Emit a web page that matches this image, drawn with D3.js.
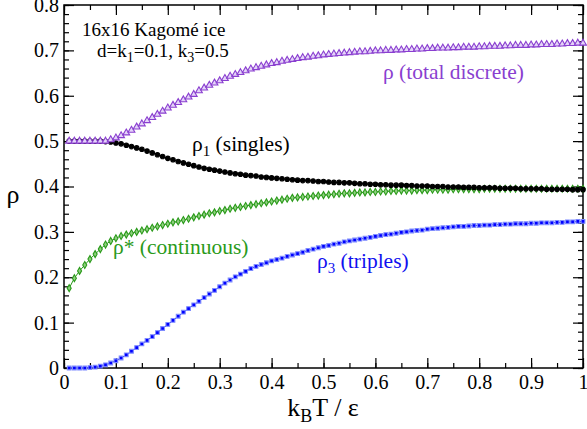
<!DOCTYPE html>
<html><head><meta charset="utf-8">
<script src="https://cdn.jsdelivr.net/npm/d3@7"></script>
<style>body{margin:0;background:#fff}svg{display:block}svg text{font-family:"Liberation Serif","Times New Roman","DejaVu Serif",serif}</style>
</head><body><svg id="c" width="587" height="429"></svg>
<script>
const temps = d3.range(1, 101).map(i => i / 100);
const rhoTotal = [0.500,0.500,0.500,0.500,0.500,0.500,0.500,0.500,0.503,0.507,
0.512,0.518,0.524,0.531,0.538,0.545,0.552,0.559,0.566,0.573,
0.579,0.585,0.591,0.597,0.603,0.611,0.617,0.623,0.628,0.633,
0.638,0.643,0.647,0.651,0.655,0.659,0.662,0.665,0.668,0.671,
0.673,0.676,0.678,0.680,0.682,0.684,0.685,0.687,0.688,0.690,
0.691,0.692,0.693,0.694,0.695,0.696,0.697,0.697,0.698,0.699,
0.699,0.700,0.700,0.701,0.701,0.702,0.702,0.703,0.703,0.704,
0.704,0.705,0.705,0.705,0.706,0.706,0.707,0.707,0.707,0.708,
0.708,0.709,0.709,0.709,0.710,0.710,0.711,0.711,0.711,0.712,
0.712,0.713,0.713,0.713,0.714,0.714,0.715,0.715,0.716,0.716];
const rhoSingles = [0.500,0.500,0.500,0.500,0.500,0.500,0.500,0.499,0.498,0.496,
0.494,0.491,0.488,0.485,0.482,0.478,0.474,0.470,0.466,0.462,
0.459,0.455,0.452,0.449,0.446,0.443,0.440,0.438,0.436,0.434,
0.432,0.430,0.428,0.427,0.425,0.424,0.423,0.421,0.420,0.419,
0.418,0.417,0.416,0.415,0.414,0.413,0.413,0.412,0.411,0.411,
0.410,0.409,0.409,0.408,0.408,0.407,0.406,0.406,0.405,0.405,
0.404,0.404,0.403,0.403,0.403,0.402,0.402,0.401,0.401,0.401,
0.400,0.400,0.400,0.399,0.399,0.399,0.398,0.398,0.398,0.397,
0.397,0.397,0.397,0.396,0.396,0.396,0.396,0.395,0.395,0.395,
0.395,0.395,0.394,0.394,0.394,0.394,0.394,0.393,0.393,0.393];
const rhoCont = [0.176,0.198,0.214,0.227,0.240,0.251,0.262,0.272,0.280,0.286,
0.291,0.294,0.297,0.300,0.303,0.306,0.309,0.312,0.315,0.318,
0.321,0.323,0.326,0.329,0.332,0.335,0.338,0.341,0.343,0.346,
0.348,0.351,0.353,0.355,0.357,0.359,0.361,0.363,0.365,0.367,
0.369,0.371,0.373,0.375,0.376,0.377,0.378,0.379,0.380,0.381,
0.382,0.383,0.384,0.385,0.385,0.386,0.387,0.387,0.388,0.388,
0.389,0.389,0.390,0.390,0.391,0.391,0.391,0.392,0.392,0.392,
0.393,0.393,0.393,0.393,0.394,0.394,0.394,0.394,0.394,0.394,
0.395,0.395,0.395,0.395,0.395,0.395,0.395,0.395,0.395,0.395,
0.395,0.395,0.395,0.395,0.395,0.395,0.395,0.395,0.395,0.395];
const rhoTriples = [0.000,0.000,0.000,0.000,0.001,0.002,0.004,0.007,0.011,0.016,
0.022,0.029,0.037,0.045,0.053,0.061,0.069,0.078,0.087,0.096,
0.105,0.114,0.123,0.131,0.139,0.147,0.155,0.163,0.171,0.179,
0.187,0.194,0.201,0.207,0.213,0.219,0.224,0.228,0.232,0.236,
0.239,0.242,0.246,0.249,0.252,0.255,0.259,0.262,0.265,0.268,
0.270,0.273,0.275,0.278,0.280,0.282,0.284,0.286,0.288,0.290,
0.292,0.294,0.295,0.297,0.299,0.300,0.302,0.303,0.304,0.306,
0.307,0.308,0.309,0.310,0.311,0.312,0.312,0.313,0.314,0.314,
0.315,0.315,0.316,0.316,0.317,0.317,0.318,0.318,0.318,0.319,
0.319,0.320,0.320,0.320,0.321,0.321,0.322,0.322,0.323,0.323];
const xTicks = [0,0.1,0.2,0.3,0.4,0.5,0.6,0.7,0.8,0.9,1];
const xTickLabels = ["0","0.1","0.2","0.3","0.4","0.5","0.6","0.7","0.8","0.9","1"];
const yTicks = [0,0.1,0.2,0.3,0.4,0.5,0.6,0.7,0.8];
const yTickLabels = ["0","0.1","0.2","0.3","0.4","0.5","0.6","0.7","0.8"];

const FONT = "'Liberation Serif','Times New Roman','DejaVu Serif',serif";
const svg = d3.select("#c");
const L = 64, R = 583, T = 5, B = 368;
const x = d3.scaleLinear().domain([0, 1]).range([L, R]);
const y = d3.scaleLinear().domain([0, 0.8]).range([B, T]);

const xMinor = d3.range(0, 21).map(i => i * 0.05);
const yMinor = d3.range(0, 41).map(i => i * 0.02);

function styleAxis(g) {
  g.attr("font-family", FONT);
  g.select(".domain").remove();
  g.selectAll("line").attr("stroke", "#000").attr("stroke-width", 1.2);
  g.selectAll("text").attr("fill", "#000").style("font-size", "20px").style("font-family", FONT);
}
// minor ticks
svg.append("g").attr("transform", `translate(0,${B})`).call(d3.axisBottom(x).tickValues(xMinor).tickSize(-5).tickFormat("")).call(styleAxis);
svg.append("g").attr("transform", `translate(0,${T})`).call(d3.axisTop(x).tickValues(xMinor).tickSize(-5).tickFormat("")).call(styleAxis);
svg.append("g").attr("transform", `translate(${L},0)`).call(d3.axisLeft(y).tickValues(yMinor).tickSize(-5).tickFormat("")).call(styleAxis);
svg.append("g").attr("transform", `translate(${R},0)`).call(d3.axisRight(y).tickValues(yMinor).tickSize(-5).tickFormat("")).call(styleAxis);
// major ticks
svg.append("g").attr("transform", `translate(0,${B})`).call(d3.axisBottom(x).tickValues(xTicks).tickSize(-10).tickPadding(7).tickFormat((d, i) => xTickLabels[i])).call(styleAxis);
svg.append("g").attr("transform", `translate(0,${T})`).call(d3.axisTop(x).tickValues(xTicks).tickSize(-10).tickFormat("")).call(styleAxis);
svg.append("g").attr("transform", `translate(${L},0)`).call(d3.axisLeft(y).tickValues(yTicks).tickSize(-10).tickPadding(5).tickFormat((d, i) => yTickLabels[i])).call(styleAxis);
svg.append("g").attr("transform", `translate(${R},0)`).call(d3.axisRight(y).tickValues(yTicks).tickSize(-10).tickFormat("")).call(styleAxis);

svg.append("rect").attr("x", L).attr("y", T).attr("width", R - L).attr("height", B - T)
  .attr("fill", "none").attr("stroke", "#000").attr("stroke-width", 1.5);

const series = [
  { vals: rhoCont, color: "#2a9a1a", fill: "#8fd080", sym: d3.symbolDiamond, size: 14 },
  { vals: rhoSingles, color: "#000", fill: "#000", sym: d3.symbolCircle, size: 16 },
  { vals: rhoTriples, color: "#1010f0", fill: "#0000ff", sym: d3.symbolSquare, size: 14, halo: "#7f8cff" },
  { vals: rhoTotal, color: "#8a3fd0", fill: "#e4d4f8", sym: d3.symbolTriangle, size: 20 }
];
const line = d3.line().x(d => x(d[0])).y(d => y(d[1]));
series.forEach(s => {
  const pts = temps.map((t, i) => [t, s.vals[i]]);
  const g = svg.append("g");
  g.append("path").attr("d", line(pts)).attr("fill", "none").attr("stroke", s.color).attr("stroke-width", 1);
  g.selectAll("path.m").data(pts).join("path").attr("class", "m")
    .attr("transform", d => `translate(${x(d[0])},${y(d[1])})`)
    .attr("d", d3.symbol().type(s.sym).size(s.size))
    .attr("fill", s.fill).attr("stroke", s.halo || s.color).attr("stroke-width", 1.1);
});

// annotations
function txt(xp, yp, size, color) {
  return svg.append("text").attr("x", xp).attr("y", yp).attr("font-family", FONT)
    .style("font-family", FONT).style("font-size", size + "px").attr("fill", color);
}
function sub(t, s, fs) {
  t.append("tspan").attr("dy", 5).style("font-size", fs + "px").text(s);
}
txt(82, 36, 19, "#000").text("16x16 Kagomé ice");
const t2 = txt(97, 57, 19, "#000");
t2.append("tspan").text("d=k");
sub(t2, "1", 14);
t2.append("tspan").attr("dy", -5).text("=0.1, k");
sub(t2, "3", 14);
t2.append("tspan").attr("dy", -5).text("=0.5");

txt(383, 79, 21.5, "#8a3fd0").text("ρ (total discrete)");
const s1 = txt(192, 151, 21.5, "#000");
s1.append("tspan").text("ρ");
sub(s1, "1", 15);
s1.append("tspan").attr("dy", -5).text(" (singles)");
txt(113, 254, 21.5, "#2a9a1a").text("ρ* (continuous)");
const s3 = txt(317, 268, 21.5, "#1010f0");
s3.append("tspan").text("ρ");
sub(s3, "3", 15);
s3.append("tspan").attr("dy", -5).text(" (triples)");

// axis titles
const xl = txt(323, 416, 26, "#000").attr("text-anchor", "middle");
xl.append("tspan").text("k");
xl.append("tspan").attr("dy", 6).style("font-size", "18px").text("B");
xl.append("tspan").attr("dy", -6).text("T / ε");
txt(13, 203, 26, "#000").attr("text-anchor", "middle").text("ρ");
</script></body></html>
